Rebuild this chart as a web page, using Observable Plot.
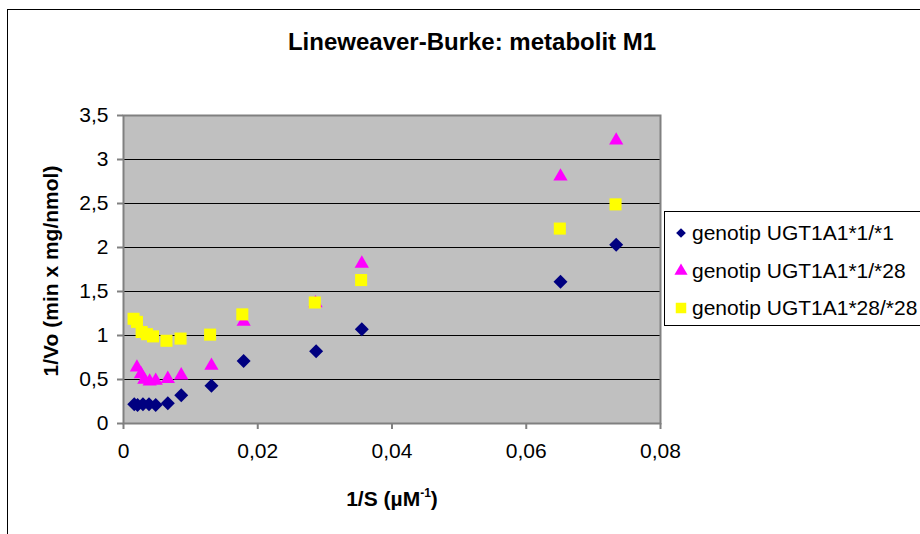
<!DOCTYPE html>
<html>
<head>
<meta charset="utf-8">
<script src="https://cdn.jsdelivr.net/npm/d3@7"></script>
<script src="https://cdn.jsdelivr.net/npm/@observablehq/plot@0.6"></script>
<style>
  html, body { margin: 0; padding: 0; background: #fff; }
  #wrap { position: relative; width: 920px; height: 534px; overflow: hidden; font-family: "Liberation Sans", Arial, sans-serif; color: #000; }
  #outer { position: absolute; left: 7px; top: 9px; width: 1000px; height: 600px; border-left: 1px solid #000; border-top: 1px solid #000; }
  #chart { position: absolute; left: 0; top: 0; }
  .lbl { position: absolute; white-space: nowrap; font-weight: bold; line-height: 1; }
  #title { font-size: 24px; left: 472px; top: 42px; transform: translate(-50%, -50%); }
  #xlabel { font-size: 21px; left: 392px; top: 498px; transform: translate(-50%, -50%); }
  #ylabel { font-size: 21px; left: 50px; top: 271px; transform: translate(-50%, -50%) rotate(-90deg); }
  #legend { position: absolute; left: 664px; top: 211px; width: 300px; height: 113px; border: 1px solid #000; background: #fff; }
  .item { position: absolute; left: 0; height: 24px; display: flex; align-items: center; font-size: 21px; white-space: nowrap; }
  .item svg { width: 22px; height: 22px; margin-left: 5px; margin-right: 0px; }
  .item span { margin-left: 0px; }
</style>
</head>
<body>
<div id="wrap">
  <div id="outer"></div>
  <div id="chart"></div>
  <div id="title" class="lbl">Lineweaver-Burke: metabolit M1</div>
  <div id="ylabel" class="lbl">1/Vo (min x mg/nmol)</div>
  <div id="xlabel" class="lbl">1/S (µM<sup style="font-size:12px;vertical-align:9px">-1</sup>)</div>
  <div id="legend"></div>
</div>
<script>
// ---- data ----
const seriesNames = ["genotip UGT1A1*1/*1", "genotip UGT1A1*1/*28", "genotip UGT1A1*28/*28"];
const xTicks = [0, 0.02, 0.04, 0.06, 0.08];
const yTicks = [0, 0.5, 1, 1.5, 2, 2.5, 3, 3.5];

const x11 = [0.0016, 0.0021, 0.0029, 0.0038, 0.0048, 0.0066, 0.0086, 0.0131, 0.0179, 0.0287, 0.0355, 0.0651, 0.0734];
const y11 = [0.22, 0.21, 0.22, 0.22, 0.21, 0.23, 0.32, 0.43, 0.71, 0.82, 1.07, 1.61, 2.03];

const x128 = [0.0020, 0.0026, 0.0031, 0.0039, 0.0048, 0.0066, 0.0086, 0.0131, 0.0179, 0.0286, 0.0355, 0.0651, 0.0734];
const y128 = [0.66, 0.585, 0.52, 0.50, 0.51, 0.53, 0.57, 0.68, 1.18, 1.39, 1.84, 2.83, 3.24];

const x2828 = [0.0015, 0.0020, 0.0027, 0.0035, 0.0044, 0.0064, 0.0085, 0.0129, 0.0177, 0.0285, 0.0354, 0.0650, 0.0733];
const y2828 = [1.19, 1.155, 1.04, 1.015, 0.99, 0.94, 0.965, 1.01, 1.24, 1.375, 1.63, 2.215, 2.49];

// ---- build ----
const toRows = (xs, ys) => xs.map((x, i) => ({x, y: ys[i]}));
const s1 = toRows(x11, y11);
const s2 = toRows(x128, y128);
const s3 = toRows(x2828, y2828);
const fmt = d => String(d).replace(".", ",");

const styles = [
  {symbol: "diamond2", fill: "#000080", r: 6.3, dy: 0},
  {symbol: "triangle", fill: "#FF00FF", r: 5.3, dy: 2},
  {symbol: "square", fill: "#FFFF00", r: 6.8, dy: 0}
];

const plot = Plot.plot({
  width: 920,
  height: 534,
  marginLeft: 123,
  marginRight: 260,
  marginTop: 115,
  marginBottom: 111,
  style: {fontFamily: "'Liberation Sans', Arial, sans-serif", fontSize: "21px", color: "#000", background: "transparent", overflow: "visible"},
  x: {domain: [0, 0.08]},
  y: {domain: [0, 3.5]},
  marks: [
    Plot.frame({fill: "#C0C0C0", stroke: null}),
    Plot.ruleY(yTicks.slice(1, -1), {stroke: "#000", strokeWidth: 1}),
    Plot.frame({stroke: "#808080", strokeWidth: 2}),
    Plot.axisX({ticks: xTicks, tickFormat: fmt, tickSize: 6, tickPadding: 14, label: null, stroke: "#808080", strokeWidth: 2}),
    Plot.axisY({ticks: yTicks, tickFormat: fmt, tickSize: 6, tickPadding: 9, label: null, stroke: "#808080", strokeWidth: 2}),
    ...[s1, s2, s3].map((s, i) => Plot.dot(s, {x: "x", y: "y", symbol: styles[i].symbol, fill: styles[i].fill, stroke: null, r: styles[i].r, dy: styles[i].dy}))
  ]
});
document.getElementById("chart").appendChild(plot);

// legend
const legend = document.getElementById("legend");
const legendSym = [
  {type: d3.symbolDiamond2, size: 60},
  {type: d3.symbolTriangle, size: 75},
  {type: d3.symbolSquare, size: 110}
];
const rowTops = [9, 47, 84];
seriesNames.forEach((name, i) => {
  const div = document.createElement("div");
  div.className = "item";
  div.style.top = rowTops[i] + "px";
  const path = d3.symbol(legendSym[i].type, legendSym[i].size)();
  div.innerHTML = `<svg viewBox="-11 -11 22 22"><path d="${path}" fill="${styles[i].fill}"></path></svg><span>${name}</span>`;
  legend.appendChild(div);
});
</script>
</body>
</html>
